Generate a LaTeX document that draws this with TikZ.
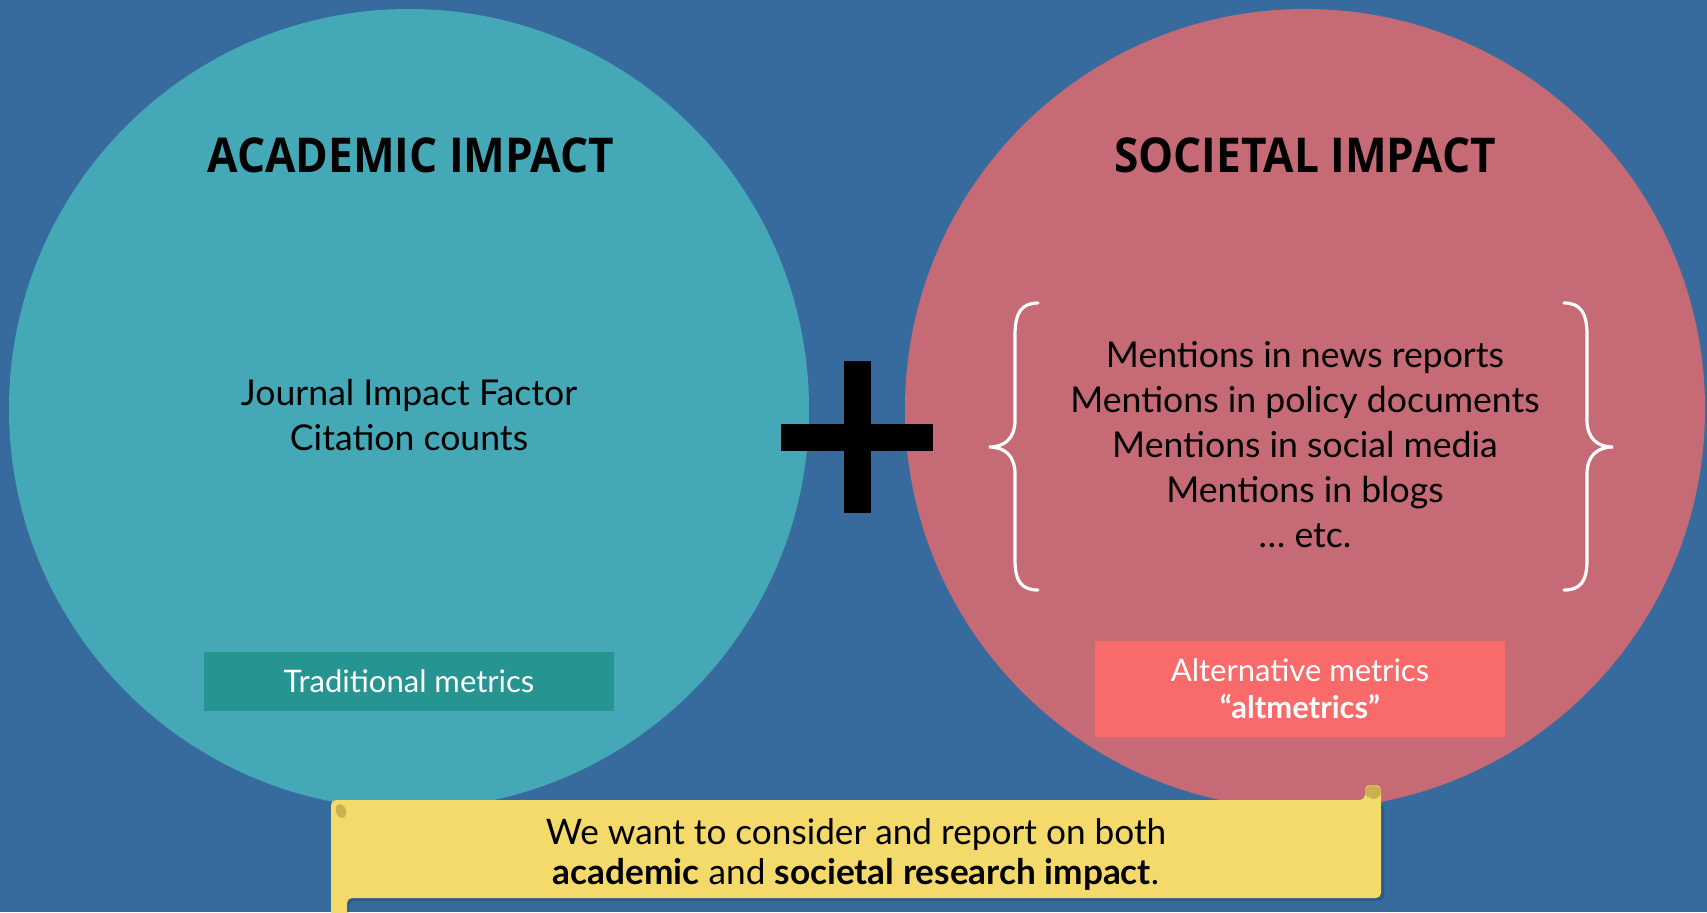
\documentclass[tikz,border=0pt]{standalone}
\usepackage{fontspec}
\setmainfont{Lato}
\newfontfamily\titlefont{Open Sans}[FakeStretch=0.92]
\usetikzlibrary{positioning}
\definecolor{bgblue}{HTML}{376B9E}
\definecolor{acadcol}{HTML}{45A8B6}
\definecolor{soccol}{HTML}{C66A76}
\definecolor{tradcol}{HTML}{269491}
\definecolor{altcol}{HTML}{F96B6B}
\definecolor{scrollcol}{HTML}{F4D96B}
\definecolor{curlcol}{HTML}{C9B24E}
\tikzstyle{bubble}=[
  circle,
  inner sep=0pt,
  minimum size=400pt,
]
\tikzstyle{heading}=[
  anchor=base,
  font={\titlefont\bfseries\fontsize{24}{28}\selectfont},
]
\tikzstyle{listing}=[
  align=center,
  inner sep=0pt,
  font={\fontsize{17.8}{22.5}\selectfont},
]
\tikzstyle{metricbox}=[
  rectangle,
  inner sep=0pt,
  minimum width=205pt,
  text=white,
  align=center,
  font={\fontsize{15.5}{18.5}\selectfont},
]
\tikzstyle{brace}=[
  draw=white,
  line width=1.6pt,
  line cap=round,
]
\tikzset{
  x=0.5pt,
  y=-0.5pt,
}

\begin{document}
\begin{tikzpicture}
      \useasboundingbox (0,0) rectangle (1707,912);
      \fill [bgblue] (0,0) rectangle (1707,912);
      % the two impact circles
      \node [bubble, fill=acadcol] (ACAD) at (409,409) {};
      \node [bubble, fill=soccol] (SOC) at (1305,409) {};
      \node [heading] (ACADTITLE) at (411,172) {ACADEMIC IMPACT};
      \node [heading] (SOCTITLE) at (1305,172) {SOCIETAL IMPACT};
      \node [listing] (ACADLIST) at (409,415) {Journal Impact Factor\\Citation counts};
      \node [listing] (SOCLIST) at (1305,445) {Mentions in news reports\\Mentions in policy documents\\Mentions in social media\\Mentions in blogs\\\dots\ etc.};
      \node [metricbox, fill=tradcol, minimum height=29.5pt] (TRAD) at (409,681.5) {Traditional metrics};
      \node [metricbox, fill=altcol, minimum height=48pt] (ALT) at (1300,689) {Alternative metrics\\\textbf{\char"201Caltmetrics\char"201D}};
      % plus sign
      \fill [black] (844,361) rectangle (871,513);
      \fill [black] (781,424) rectangle (933,451);
      % braces
      \draw [brace] (1038,303) .. controls (1022,303) and (1015,312) .. (1015,335) -- (1015,420)
        .. controls (1015,438) and (1005,447) .. (989,447)
        .. controls (1005,447) and (1015,456) .. (1015,474) -- (1015,560)
        .. controls (1015,582) and (1022,590) .. (1038,590);
      \draw [brace] (1564,303) .. controls (1580,303) and (1587,312) .. (1587,335) -- (1587,420)
        .. controls (1587,438) and (1597,447) .. (1613,447)
        .. controls (1597,447) and (1587,456) .. (1587,474) -- (1587,560)
        .. controls (1587,582) and (1580,590) .. (1564,590);
      % scroll banner
      \fill [black, opacity=0.15, rounded corners=2.5pt] (333,920) -- (333,803) -- (1384,803) -- (1384,901) -- (349,901) -- (349,920) -- cycle;
      \fill [scrollcol, rounded corners=2.5pt] (331,920) -- (331,800) -- (1365,800) -- (1365,785) -- (1381,785) -- (1381,898) -- (347,898) -- (347,920) -- cycle;
      \fill [curlcol] (1373,792) ellipse (8 and 7);
      \fill [scrollcol] (1369,800) circle (3);
      \fill [curlcol, rotate around={20:(341,811)}] (341,811) ellipse (5 and 7);
      \node [align=center, font={\fontsize{17.6}{20}\selectfont}] (BANNER) at (856,854)
        {We want to consider and report on both\\\textbf{academic} and \textbf{societal research impact}.};
    \end{tikzpicture}
\end{document}
